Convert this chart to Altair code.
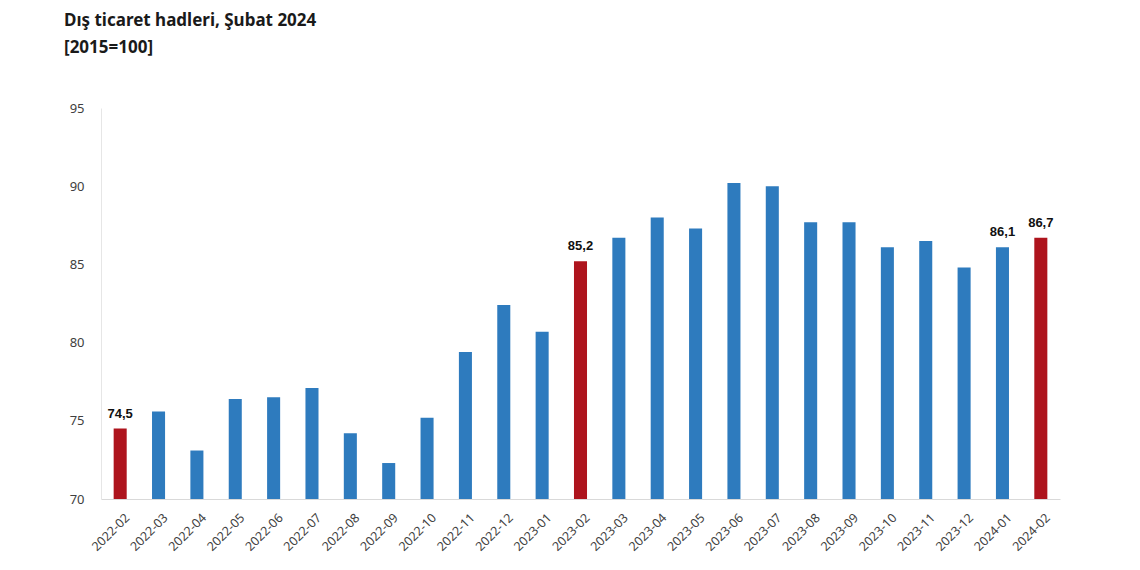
import altair as alt
import pandas as pd

months = ["2022-02", "2022-03", "2022-04", "2022-05", "2022-06", "2022-07", "2022-08",
          "2022-09", "2022-10", "2022-11", "2022-12", "2023-01", "2023-02", "2023-03",
          "2023-04", "2023-05", "2023-06", "2023-07", "2023-08", "2023-09", "2023-10",
          "2023-11", "2023-12", "2024-01", "2024-02"]
values = [74.5, 75.6, 73.1, 76.4, 76.5, 77.1, 74.2, 72.3, 75.2, 79.4, 82.4, 80.7, 85.2,
          86.7, 88.0, 87.3, 90.2, 90.0, 87.7, 87.7, 86.1, 86.5, 84.8, 86.1, 86.7]
highlighted = ["2022-02", "2023-02", "2024-02"]
labeled = ["2022-02", "2023-02", "2024-01", "2024-02"]
y_ticks = [70, 75, 80, 85, 90, 95]

df = pd.DataFrame({"month": months, "value": values})
df["kind"] = ["red" if m in highlighted else "blue" for m in months]
df["label"] = [f"{v:.1f}".replace(".", ",") if m in labeled else "" for m, v in zip(months, values)]

FONT = "Noto Sans"

x_enc = alt.X("month:N", sort=months, title=None,
              scale=alt.Scale(paddingInner=0.66, paddingOuter=0.33),
              axis=alt.Axis(labelAngle=-45, labelAlign="right", labelBaseline="top",
                            labelFontSize=12.5, labelColor="#404040", labelFont=FONT,
                            ticks=False, domainColor="#d9d9d9", labelPadding=12,
                            labelOffset=3))
y_enc = alt.Y("value:Q", title=None,
              scale=alt.Scale(domain=[70, 95], nice=False, zero=False, clamp=True),
              axis=alt.Axis(values=y_ticks, grid=False, ticks=False, domainColor="#e6e6e6",
                            labelFontSize=13, labelColor="#404040", labelFont=FONT,
                            labelPadding=17))

bars = alt.Chart(df).mark_bar().encode(
    x=x_enc, y=y_enc,
    y2=alt.datum(70),
    color=alt.Color("kind:N", scale=alt.Scale(domain=["blue", "red"],
                                              range=["#2E7BBE", "#AE141D"]), legend=None),
)

texts = alt.Chart(df).mark_text(baseline="bottom", dy=-8, fontSize=13, fontWeight="bold",
                                font="Liberation Sans", color="#111111").encode(
    x=alt.X("month:N", sort=months),
    y=alt.Y("value:Q"),
    text="label:N",
)

chart = (bars + texts).properties(
    width=959, height=391,
    padding={"left": 93, "top": 100, "right": 10, "bottom": 60},
    autosize=alt.AutoSizeParams(type="none"),
    title=alt.TitleParams(text="Dış ticaret hadleri, Şubat 2024",
                          subtitle="[2015=100]",
                          anchor="start", frame="group", dx=-37, offset=45,
                          fontSize=17, fontWeight="bold", font=FONT, color="#1a1a1a",
                          subtitleFontSize=17, subtitleFontWeight="bold",
                          subtitleFont=FONT, subtitleColor="#1a1a1a",
                          subtitlePadding=10),
).configure_view(stroke=None)

chart.save("out.html", embed_options={"renderer": "svg", "actions": False})
